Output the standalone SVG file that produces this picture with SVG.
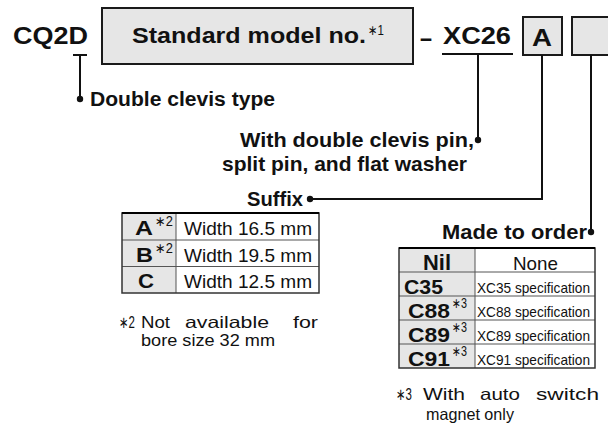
<svg xmlns="http://www.w3.org/2000/svg" width="608" height="427" viewBox="0 0 608 427">
<style>
  text { font-family: "Liberation Sans", Arial, "DejaVu Sans", sans-serif; fill: #111; }
  .b { font-weight: bold; }
  .sup { font-size: 14px; font-weight: normal; }
  .spec { font-size: 15px; }
  .box { fill: #e6e6e6; stroke: #1a1a1a; stroke-width: 2; }
  .ln { fill: none; stroke: #111; stroke-width: 2; }
  .grey { fill: #e6e6e6; }
  .white { fill: #fff; }
  .grid { stroke: #555; stroke-width: 1; fill: none; }
  .outer { stroke: #333; stroke-width: 1.5; fill: none; }
  .top { stroke: #000; stroke-width: 2.2; }
  .dot { fill: #111; }
</style>

<g id="code-cq2d">
  <text class="b" x="13" y="44" font-size="23" textLength="75" lengthAdjust="spacingAndGlyphs">CQ2D</text>
</g>

<g id="box-standard">
  <rect class="box" x="102" y="8" width="311" height="56"/>
  <text class="b" x="132" y="43" font-size="22" textLength="234" lengthAdjust="spacingAndGlyphs">Standard model no.</text>
  <text class="sup" x="368" y="35" textLength="16" lengthAdjust="spacingAndGlyphs">∗1</text>
</g>

<g id="dash">
  <text class="b" x="420" y="46" font-size="23" textLength="12" lengthAdjust="spacingAndGlyphs">–</text>
</g>

<g id="code-xc26">
  <text class="b" x="443" y="44" font-size="23" textLength="68" lengthAdjust="spacingAndGlyphs">XC26</text>
</g>

<g id="box-a">
  <rect class="box" x="523" y="17" width="39" height="38"/>
  <text class="b" x="532" y="46" font-size="24" textLength="20" lengthAdjust="spacingAndGlyphs">A</text>
</g>

<g id="box-order">
  <rect class="box" x="572" y="17" width="50" height="38"/>
</g>

<g id="connectors">
  <path class="ln" d="M73 55 H87 M80 55 V99"/>
  <circle class="dot" cx="80" cy="99" r="3.2"/>
  <path class="ln" d="M442 54 H513 M478 54 V140"/>
  <circle class="dot" cx="478" cy="140" r="3.2"/>
  <path class="ln" d="M542 55 V199 H310"/>
  <circle class="dot" cx="310" cy="199" r="3.2"/>
  <path class="ln" d="M591 55 V232"/>
  <circle class="dot" cx="591" cy="232" r="3.2"/>
</g>

<g id="label-double-clevis">
  <text class="b" x="90" y="106" font-size="20" textLength="185" lengthAdjust="spacingAndGlyphs">Double clevis type</text>
</g>

<g id="label-pin">
  <text class="b" x="240" y="147" font-size="21" textLength="234" lengthAdjust="spacingAndGlyphs">With double clevis pin,</text>
  <text class="b" x="222" y="171" font-size="21" textLength="245" lengthAdjust="spacingAndGlyphs">split pin, and flat washer</text>
</g>

<g id="label-suffix">
  <text class="b" x="247" y="206" font-size="21" textLength="56" lengthAdjust="spacingAndGlyphs">Suffix</text>
</g>

<g id="table-suffix">
  <rect class="grey" x="122" y="213" width="54" height="80"/>
  <rect class="white" x="176" y="213" width="143" height="80"/>
  <path class="grid" d="M122 240 H319 M122 266.5 H319 M176 213 V293"/>
  <rect class="outer" x="122" y="213" width="197" height="80"/>
  <line class="top" x1="122" y1="213" x2="319" y2="213"/>
  <text class="b" x="135" y="235" font-size="20" textLength="18" lengthAdjust="spacingAndGlyphs">A</text>
  <text class="sup" x="155" y="226" textLength="18" lengthAdjust="spacingAndGlyphs">∗2</text>
  <text x="184" y="235" font-size="18" textLength="128" lengthAdjust="spacingAndGlyphs">Width 16.5 mm</text>
  <text class="b" x="136" y="261.5" font-size="20" textLength="17" lengthAdjust="spacingAndGlyphs">B</text>
  <text class="sup" x="155" y="252.5" textLength="18" lengthAdjust="spacingAndGlyphs">∗2</text>
  <text x="184" y="261.5" font-size="18" textLength="128" lengthAdjust="spacingAndGlyphs">Width 19.5 mm</text>
  <text class="b" x="138" y="288" font-size="20" textLength="16" lengthAdjust="spacingAndGlyphs">C</text>
  <text x="184" y="288" font-size="18" textLength="128" lengthAdjust="spacingAndGlyphs">Width 12.5 mm</text>
</g>

<g id="note-2">
  <text font-size="16.5" y="328"><tspan x="119" textLength="16" lengthAdjust="spacingAndGlyphs">∗2</tspan><tspan x="141" textLength="29" lengthAdjust="spacingAndGlyphs">Not</tspan><tspan x="185" textLength="84" lengthAdjust="spacingAndGlyphs">available</tspan><tspan x="293" textLength="25" lengthAdjust="spacingAndGlyphs">for</tspan></text>
  <text x="141" y="346" font-size="16.5" textLength="134" lengthAdjust="spacingAndGlyphs">bore size 32 mm</text>
</g>

<g id="label-made-to-order">
  <text class="b" x="442" y="239" font-size="21" textLength="145" lengthAdjust="spacingAndGlyphs">Made to order</text>
</g>

<g id="table-order">
  <rect class="grey" x="399" y="248" width="76" height="120"/>
  <rect class="white" x="475" y="248" width="120" height="120"/>
  <path class="grid" d="M399 272 H595 M399 296 H595 M399 320 H595 M399 344 H595 M475 248 V368"/>
  <rect class="outer" x="399" y="248" width="196" height="120"/>
  <line class="top" x1="399" y1="248" x2="595" y2="248"/>
  <text class="b" x="423" y="269.5" font-size="22" textLength="28" lengthAdjust="spacingAndGlyphs">Nil</text>
  <text x="513" y="269.5" font-size="19" textLength="45" lengthAdjust="spacingAndGlyphs">None</text>
  <text class="b" x="404" y="293.5" font-size="21" textLength="39" lengthAdjust="spacingAndGlyphs">C35</text>
  <text class="spec" x="477" y="292.5" textLength="113" lengthAdjust="spacingAndGlyphs">XC35 specification</text>
  <text class="b" x="408" y="317.5" font-size="21" textLength="42" lengthAdjust="spacingAndGlyphs">C88</text>
  <text class="sup" x="452" y="308" textLength="15" lengthAdjust="spacingAndGlyphs">∗3</text>
  <text class="spec" x="477" y="316.5" textLength="113" lengthAdjust="spacingAndGlyphs">XC88 specification</text>
  <text class="b" x="408" y="341.5" font-size="21" textLength="42" lengthAdjust="spacingAndGlyphs">C89</text>
  <text class="sup" x="452" y="332" textLength="15" lengthAdjust="spacingAndGlyphs">∗3</text>
  <text class="spec" x="477" y="340.5" textLength="113" lengthAdjust="spacingAndGlyphs">XC89 specification</text>
  <text class="b" x="408" y="365.5" font-size="21" textLength="42" lengthAdjust="spacingAndGlyphs">C91</text>
  <text class="sup" x="452" y="356" textLength="15" lengthAdjust="spacingAndGlyphs">∗3</text>
  <text class="spec" x="477" y="364.5" textLength="113" lengthAdjust="spacingAndGlyphs">XC91 specification</text>
</g>

<g id="note-3">
  <text font-size="16.5" y="400"><tspan x="396" textLength="16" lengthAdjust="spacingAndGlyphs">∗3</tspan><tspan x="423" textLength="42" lengthAdjust="spacingAndGlyphs">With</tspan><tspan x="480" textLength="40" lengthAdjust="spacingAndGlyphs">auto</tspan><tspan x="536" textLength="63" lengthAdjust="spacingAndGlyphs">switch</tspan></text>
  <text x="426" y="420" font-size="16.5" textLength="88" lengthAdjust="spacingAndGlyphs">magnet only</text>
</g>
</svg>
